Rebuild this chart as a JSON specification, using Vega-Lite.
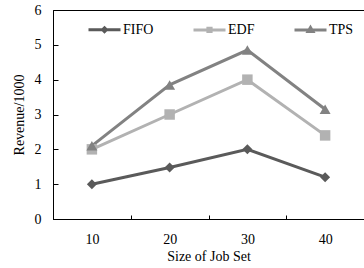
{
  "$schema": "https://vega.github.io/schema/vega-lite/v6.json",
  "autosize": {"type": "none"},
  "padding": {"left": 53, "top": 10, "right": 0, "bottom": 49},
  "width": 311,
  "height": 209,
  "background": "white",
  "config": {
    "font": "Liberation Serif",
    "view": {"stroke": "black", "strokeWidth": 1},
    "axis": {
      "grid": false,
      "domainColor": "black",
      "tickColor": "black",
      "labelColor": "black",
      "titleColor": "black",
      "labelFont": "Liberation Serif",
      "titleFont": "Liberation Serif",
      "labelFontSize": 14,
      "titleFontSize": 14,
      "titleFontWeight": "normal"
    },
    "legend": {
      "padding": 0,
      "symbolSize": 1024,
      "symbolStrokeWidth": 3,
      "labelOffset": 1,
      "columnPadding": 33,
      "labelFont": "Liberation Serif",
      "labelFontSize": 14,
      "labelColor": "black"
    }
  },
  "data": {
    "values": [
      {"size": 10, "series": "FIFO", "value": 1.0},
      {"size": 20, "series": "FIFO", "value": 1.48},
      {"size": 30, "series": "FIFO", "value": 2.0},
      {"size": 40, "series": "FIFO", "value": 1.2},
      {"size": 10, "series": "EDF", "value": 2.0},
      {"size": 20, "series": "EDF", "value": 3.0},
      {"size": 30, "series": "EDF", "value": 4.0},
      {"size": 40, "series": "EDF", "value": 2.4},
      {"size": 10, "series": "TPS", "value": 2.1},
      {"size": 20, "series": "TPS", "value": 3.85},
      {"size": 30, "series": "TPS", "value": 4.85},
      {"size": 40, "series": "TPS", "value": 3.15}
    ]
  },
  "encoding": {
    "x": {
      "field": "size",
      "type": "ordinal",
      "scale": {"paddingInner": 0, "paddingOuter": 0},
      "axis": {
        "title": "Size of Job Set",
        "labelAngle": 0,
        "tickBand": "extent",
        "tickSize": -4,
        "labelPadding": 17,
        "titlePadding": 3
      }
    },
    "y": {
      "field": "value",
      "type": "quantitative",
      "scale": {"domain": [0, 6], "nice": false},
      "axis": {
        "title": "Revenue/1000",
        "values": [0, 1, 2, 3, 4, 5, 6],
        "tickSize": -5,
        "labelPadding": 17,
        "titlePadding": 8
      }
    }
  },
  "layer": [
    {
      "mark": {"type": "line", "strokeWidth": 3},
      "encoding": {
        "color": {
          "field": "series",
          "type": "nominal",
          "scale": {"domain": ["FIFO", "EDF", "TPS"], "range": ["#5a5a5a", "#b2b2b2", "#828282"]},
          "legend": null
        }
      }
    },
    {
      "transform": [{"filter": "datum.series === 'FIFO'"}],
      "mark": {"type": "point", "filled": true, "opacity": 1, "size": 100, "shape": "diamond", "color": "#5a5a5a"},
      "encoding": {}
    },
    {
      "transform": [{"filter": "datum.series === 'EDF'"}],
      "mark": {"type": "point", "filled": true, "opacity": 1, "size": 110, "shape": "square", "color": "#b2b2b2"},
      "encoding": {}
    },
    {
      "transform": [{"filter": "datum.series === 'TPS'"}],
      "mark": {"type": "point", "filled": true, "opacity": 1, "size": 120, "shape": "triangle-up", "color": "#828282"},
      "encoding": {}
    },
    {
      "transform": [{"filter": "false"}],
      "mark": {"type": "point", "filled": false, "opacity": 1, "size": 1024, "strokeWidth": 3},
      "encoding": {
        "color": {
          "field": "series",
          "type": "nominal",
          "scale": {"domain": ["FIFO", "EDF", "TPS"], "range": ["#5a5a5a", "#b2b2b2", "#828282"]},
          "legend": {"title": null, "orient": "none", "legendX": 34, "legendY": 2, "direction": "horizontal", "columnPadding": 33, "labelOffset": 1, "symbolSize": 1024, "padding": 0}
        },
        "shape": {
          "field": "series",
          "type": "nominal",
          "scale": {
            "domain": ["FIFO", "EDF", "TPS"],
            "range": [
              "M-1,0H1M0,-0.12L0.12,0L0,0.12L-0.12,0Z",
              "M-1,0H1M-0.1,-0.1H0.1V0.1H-0.1Z",
              "M-1,0H1M0,-0.16L0.15,0.09L-0.15,0.09Z"
            ]
          },
          "legend": {"title": null, "orient": "none", "legendX": 34, "legendY": 2, "direction": "horizontal", "columnPadding": 33, "labelOffset": 1, "symbolSize": 1024, "padding": 0}
        }
      }
    }
  ],
  "resolve": {"scale": {"color": "independent", "shape": "independent"}}
}
